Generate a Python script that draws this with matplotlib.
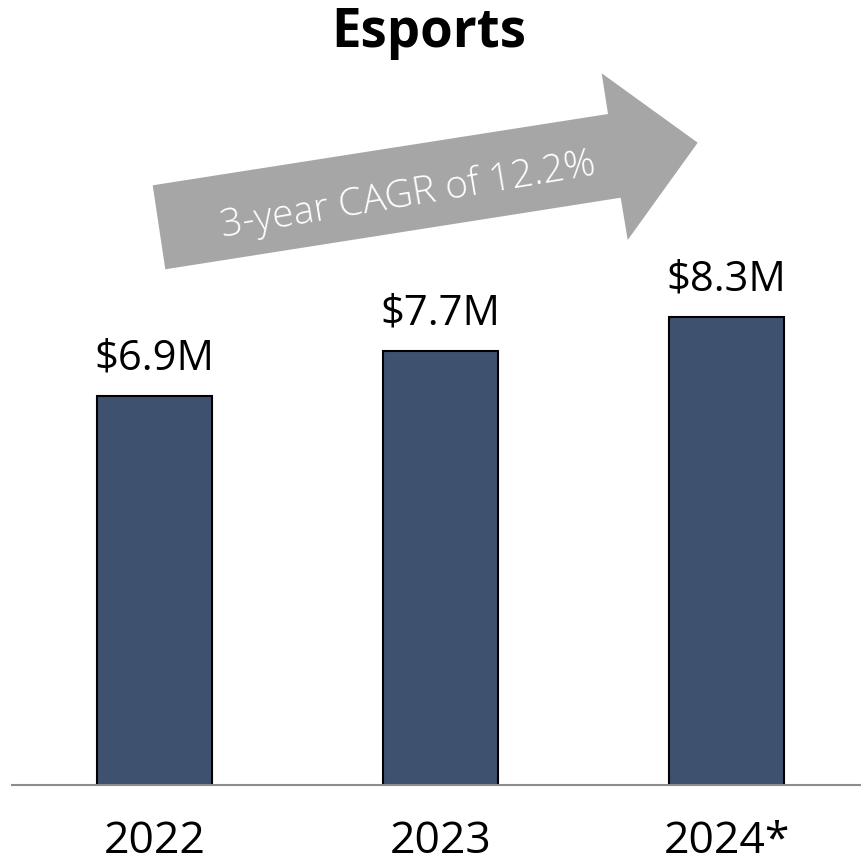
import matplotlib.pyplot as plt
from matplotlib.patches import Polygon

plt.rcParams['font.family'] = ['Open Sans', 'DejaVu Sans']

# Data
years = ["2022", "2023", "2024*"]
revenue = [6.9, 7.7, 8.3]  # $M
title = "Esports"
cagr_text = "3-year CAGR of 12.2%"

W, H = 861, 866
fig = plt.figure(figsize=(W / 100, H / 100), dpi=100)

# axes placed in pixel units: baseline at y=785, 3 category slots of 286px
ax = fig.add_axes([11.5 / W, (H - 785) / H, 858 / W, 564 / H])
x = range(len(years))
ax.bar(x, revenue, width=0.402, color="#3e5270", edgecolor="black", linewidth=1.5, zorder=2)
ax.set_xlim(-0.5, 2.5)
ax.set_ylim(0, 10)

for xi, v in zip(x, revenue):
    ax.annotate(f"${v}M", (xi, v), xytext=(0, 12), textcoords="offset points",
                ha="center", va="bottom", fontsize=30, color="black")

ax.set_xticks(list(x))
ax.set_xticklabels(years, fontsize=32)
ax.tick_params(axis="x", length=0, pad=25)
ax.set_yticks([])
for side in ["top", "left", "right"]:
    ax.spines[side].set_visible(False)
ax.spines["bottom"].set_color("#8c8c8c")
ax.spines["bottom"].set_linewidth(1.5)

# growth arrow, vertices in figure pixels (origin top-left)
arrow_px = [(152.7, 185.3), (608, 114), (601.7, 73.3), (697.7, 142.7),
            (627.7, 240), (620.7, 197.7), (165.3, 269.3)]
arrow_pts = [(px / W, 1 - py / H) for px, py in arrow_px]
fig.patches.append(Polygon(arrow_pts, closed=True, transform=fig.transFigure,
                           facecolor="#a6a6a6", edgecolor="none"))
fig.text(408 / W, 1 - 196 / H, cagr_text, rotation=9.5, rotation_mode="anchor",
         ha="center", va="center", color="white", fontsize=28, fontweight="light")

fig.text(429 / W, 1 - 33 / H, title, ha="center", va="center",
         fontsize=38, fontweight="bold")

fig.savefig("out.png", dpi=100)
